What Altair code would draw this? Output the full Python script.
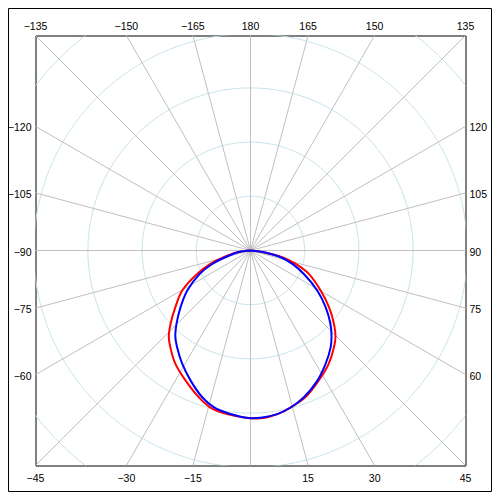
import altair as alt
import pandas as pd
import numpy as np

# ---- data -------------------------------------------------------------
R = 39.67  # half width of the square plot, in radial units

ring_radii = [10, 20, 30, 40, 50]
spoke_angles = list(range(-165, 181, 15))

top_labels = [-135, -150, -165, 180, 165, 150, 135]
right_labels = [120, 105, 90, 75, 60]
bottom_labels = [45, 30, 15, -15, -30, -45]
left_labels = [-120, -105, -90, -75, -60]

red_theta = [-90, -82.5, -76.1, -71.6, -66.4, -59.6, -52.9, -47.5, -43.5, -39.6,
             -33.5, -26.6, -19.4, -14.3, -8.1, -1.1, 4.4, 9.3, 14.3, 20.6,
             27.7, 34.6, 40.7, 44.7, 48.7, 54.1, 60.3, 68.2, 73.5, 78.1, 82.5, 90]
red_r = [0, 2.4, 5.1, 7.8, 10.7, 14.6, 17.4, 20.0, 21.9, 23.2,
         25.1, 26.8, 28.7, 29.9, 30.5, 30.9, 31.0, 30.6, 29.9, 28.9,
         27.1, 25.4, 23.6, 22.3, 20.5, 17.9, 14.9, 11.6, 8.7, 6.0, 2.4, 0]

blue_theta = [-90, -82.5, -75, -70.7, -65.3, -57.7, -51.0, -45.3, -41.1, -37.2,
              -31.1, -24.8, -18.2, -13.2, -7.0, -0.7, 3.4, 9.3, 14.3, 20.0,
              27.2, 33.5, 39.6, 43.3, 47.5, 52.9, 59.0, 66.4, 72.3, 77.4, 83, 90]
blue_r = [0, 2.2, 4.8, 7.4, 10.3, 13.8, 16.6, 19.2, 21.1, 22.4,
          24.4, 26.4, 28.5, 29.7, 30.4, 30.9, 30.9, 30.6, 29.9, 28.8,
          27.0, 25.1, 23.2, 21.8, 20.0, 17.4, 14.4, 10.7, 8.1, 5.7, 2.3, 0]

# ---- tables -----------------------------------------------------------
ring_steps = list(range(0, 361, 2))
rings_df = pd.DataFrame([(r, t) for r in ring_radii for t in ring_steps],
                        columns=["r", "theta"])
spokes_df = pd.DataFrame({"theta": spoke_angles})
red_df = pd.DataFrame({"theta": red_theta, "r": red_r})
blue_df = pd.DataFrame({"theta": blue_theta, "r": blue_r})

xs = alt.Scale(domain=[-R, R], nice=False, zero=False)
ys = alt.Scale(domain=[-R, R], nice=False, zero=False)

X_EXPR = "datum.r * sin(datum.theta * PI / 180)"
Y_EXPR = "-datum.r * cos(datum.theta * PI / 180)"
EDGE_X = f"{R} * sin(datum.theta * PI / 180) / max(abs(sin(datum.theta * PI / 180)), abs(cos(datum.theta * PI / 180)))"
EDGE_Y = f"-{R} * cos(datum.theta * PI / 180) / max(abs(sin(datum.theta * PI / 180)), abs(cos(datum.theta * PI / 180)))"


def polar_line(df, color, width, **kw):
    return alt.Chart(df).transform_calculate(x=X_EXPR, y=Y_EXPR).mark_line(
        color=color, strokeWidth=width, clip=True, **kw
    ).encode(
        x=alt.X("x:Q", scale=xs, axis=None),
        y=alt.Y("y:Q", scale=ys, axis=None),
        order=alt.Order("theta:Q"),
    )


rings = alt.Chart(rings_df).transform_calculate(x=X_EXPR, y=Y_EXPR).mark_line(
    color="#c8e4ec", strokeWidth=1, clip=True
).encode(
    x=alt.X("x:Q", scale=xs, axis=None),
    y=alt.Y("y:Q", scale=ys, axis=None),
    detail="r:N",
    order=alt.Order("theta:Q"),
)

spokes = alt.Chart(spokes_df).transform_calculate(
    x0="0", y0="0", xe=EDGE_X, ye=EDGE_Y
).mark_rule(color="#c0c0c0", strokeWidth=1).encode(
    x=alt.X("x0:Q", scale=xs, axis=None),
    y=alt.Y("y0:Q", scale=ys, axis=None),
    x2="xe:Q",
    y2="ye:Q",
)

red = polar_line(red_df, "#ff0000", 2, interpolate="catmull-rom")
blue = polar_line(blue_df, "#0000ff", 2, interpolate="catmull-rom")


def labels(vals, align, baseline, dx, dy):
    return alt.Chart(pd.DataFrame({"theta": vals})).transform_calculate(
        xe=EDGE_X, ye=EDGE_Y
    ).mark_text(
        align=align, baseline=baseline, dx=dx, dy=dy,
        font="Liberation Sans", fontSize=10.5, color="black"
    ).encode(
        x=alt.X("xe:Q", scale=xs, axis=None),
        y=alt.Y("ye:Q", scale=ys, axis=None),
        text=alt.Text("theta:Q", format="d"),
    )


lab_top = labels(top_labels, "center", "alphabetic", 0, -6)
lab_bottom = labels(bottom_labels, "center", "alphabetic", 0, 16.5)
lab_left = labels(left_labels, "right", "middle", -4, 2)
lab_right = labels(right_labels, "left", "middle", 4, 2)

outer = alt.Chart(pd.DataFrame({"a": [0]})).mark_rect(
    fillOpacity=0, stroke="black", strokeWidth=1, clip=False
).encode(
    x=alt.value(-27), x2=alt.value(456), y=alt.value(-27), y2=alt.value(456)
)

chart = alt.layer(
    rings, spokes, red, blue, lab_top, lab_bottom, lab_left, lab_right, outer
).properties(
    width=430, height=430,
    padding={"left": 27.5, "top": 27.5, "right": 26.5, "bottom": 26.5},
    autosize=alt.AutoSizeParams(type="none"),
    background="white",
).configure_view(stroke="black", strokeWidth=1)

chart.save("out.html", embed_options={"renderer": "svg", "actions": False})
